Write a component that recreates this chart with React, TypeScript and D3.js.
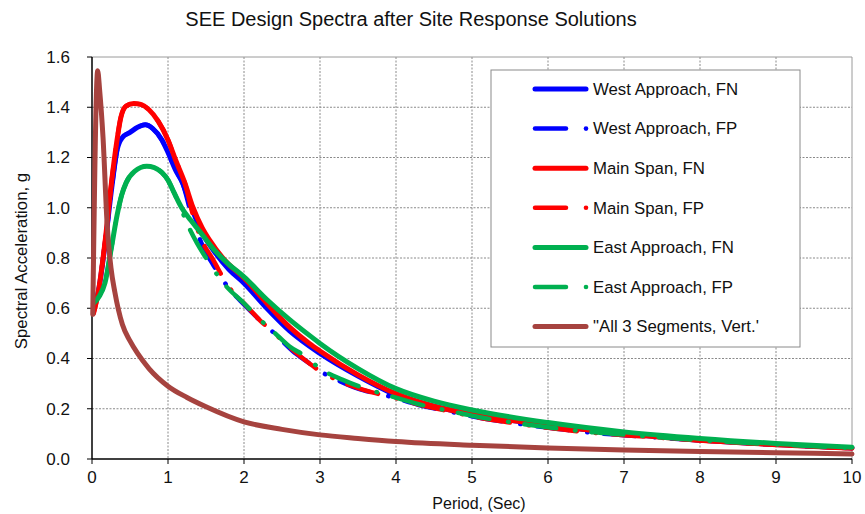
import React from 'react';
import * as d3 from 'd3';

const width = 865;
const height = 514;
const margin = { top: 57, right: 12, bottom: 55, left: 92 };

const xTicks = [0, 1, 2, 3, 4, 5, 6, 7, 8, 9, 10];
const yTicks = [0, 0.2, 0.4, 0.6, 0.8, 1.0, 1.2, 1.4, 1.6];

// period (sec) / spectral acceleration (g)
const westFnT = [0.02, 0.08, 0.17, 0.26, 0.33, 0.4, 0.5, 0.6, 0.7, 0.8, 0.92, 1.0, 1.1, 1.19, 1.31, 1.45, 1.6, 1.8, 2.0, 2.3, 2.6, 3.0, 3.5, 4, 4.5, 5, 6, 7, 8, 9, 10];
const westFnSa = [0.6, 0.66, 0.85, 1.08, 1.23, 1.28, 1.3, 1.32, 1.33, 1.315, 1.27, 1.22, 1.15, 1.1, 1.0, 0.9, 0.83, 0.755, 0.7, 0.6, 0.51, 0.42, 0.33, 0.255, 0.21, 0.178, 0.135, 0.1, 0.076, 0.058, 0.044];

const westFpT = [0.02, 0.08, 0.17, 0.26, 0.33, 0.4, 0.5, 0.6, 0.7, 0.8, 0.92, 1.0, 1.1, 1.19, 1.31, 1.46, 1.6, 1.8, 2.0, 2.2, 2.4, 2.64, 2.84, 3.0, 3.26, 3.5, 3.68, 3.9, 4.3, 4.8, 5.0, 5.5, 6, 6.6, 7, 8, 9, 10];
const westFpSa = [0.6, 0.66, 0.85, 1.08, 1.23, 1.28, 1.3, 1.32, 1.33, 1.315, 1.27, 1.22, 1.15, 1.1, 0.97, 0.845, 0.77, 0.68, 0.615, 0.555, 0.5, 0.43, 0.385, 0.35, 0.31, 0.28, 0.265, 0.25, 0.215, 0.183, 0.17, 0.145, 0.125, 0.104, 0.095, 0.074, 0.057, 0.043];

const mainFnT = [0.02, 0.08, 0.17, 0.26, 0.32, 0.38, 0.45, 0.55, 0.65, 0.75, 0.87, 1.0, 1.1, 1.22, 1.33, 1.45, 1.55, 1.75, 2.0, 2.3, 2.6, 2.86, 3.0, 3.5, 4, 4.5, 5, 6, 7, 8, 9, 10];
const mainFnSa = [0.58, 0.66, 0.86, 1.11, 1.25, 1.36, 1.405, 1.415, 1.41, 1.39, 1.345, 1.27, 1.19, 1.1, 1.0, 0.92, 0.87, 0.79, 0.72, 0.62, 0.525, 0.46, 0.43, 0.335, 0.26, 0.21, 0.178, 0.135, 0.1, 0.075, 0.057, 0.043];

const mainFpT = [0.02, 0.08, 0.17, 0.26, 0.32, 0.38, 0.45, 0.55, 0.65, 0.75, 0.87, 1.0, 1.1, 1.22, 1.33, 1.46, 1.58, 1.8, 2.0, 2.2, 2.4, 2.6, 2.84, 3.0, 3.22, 3.5, 3.7, 3.9, 4.3, 4.8, 5.0, 5.5, 6, 6.6, 7, 8, 9, 10];
const mainFpSa = [0.58, 0.66, 0.86, 1.11, 1.25, 1.36, 1.405, 1.415, 1.41, 1.39, 1.345, 1.27, 1.19, 1.1, 0.97, 0.86, 0.8, 0.685, 0.62, 0.555, 0.5, 0.445, 0.385, 0.35, 0.315, 0.282, 0.264, 0.25, 0.217, 0.183, 0.17, 0.145, 0.124, 0.104, 0.095, 0.074, 0.057, 0.043];

const eastFnT = [0.02, 0.1, 0.17, 0.26, 0.33, 0.39, 0.45, 0.56, 0.72, 0.82, 0.92, 1.0, 1.08, 1.18, 1.3, 1.42, 1.6, 1.8, 2.0, 2.3, 2.6, 2.87, 3.0, 3.5, 4, 4.5, 5, 6, 7, 8, 9, 10];
const eastFnSa = [0.62, 0.65, 0.7, 0.85, 0.97, 1.05, 1.1, 1.145, 1.165, 1.16, 1.14, 1.11, 1.06, 1.0, 0.95, 0.905, 0.835, 0.775, 0.725, 0.635, 0.555, 0.49, 0.46, 0.36, 0.28, 0.23, 0.195, 0.145, 0.108, 0.082, 0.062, 0.047];

const eastFpT = [0.02, 0.1, 0.17, 0.26, 0.33, 0.39, 0.45, 0.56, 0.72, 0.82, 0.92, 1.0, 1.08, 1.18, 1.27, 1.38, 1.5, 1.77, 2.0, 2.2, 2.4, 2.6, 2.8, 3.0, 3.3, 3.6, 3.9, 4.3, 4.8, 5.0, 5.5, 6, 6.6, 7, 8, 9, 10];
const eastFpSa = [0.62, 0.65, 0.7, 0.85, 0.97, 1.05, 1.1, 1.145, 1.165, 1.16, 1.14, 1.11, 1.06, 0.99, 0.925, 0.86, 0.8, 0.686, 0.62, 0.558, 0.503, 0.448, 0.41, 0.36, 0.315, 0.28, 0.253, 0.218, 0.185, 0.172, 0.147, 0.126, 0.106, 0.097, 0.075, 0.058, 0.044];

const vertT = [0.01, 0.075, 0.1, 0.145, 0.2, 0.25, 0.3, 0.4, 0.5, 0.6, 0.75, 1.0, 1.25, 1.5, 2, 2.5, 3, 3.5, 4, 5, 6, 7, 8, 9, 10];
const vertSa = [0.575, 1.545, 1.47, 1.28, 0.93, 0.76, 0.665, 0.535, 0.47, 0.42, 0.36, 0.29, 0.245, 0.208, 0.148, 0.118, 0.096, 0.082, 0.07, 0.055, 0.044, 0.036, 0.03, 0.025, 0.02];

const seriesNames = ['West Approach, FN', 'West Approach, FP', 'Main Span, FN', 'Main Span, FP', 'East Approach, FN', 'East Approach, FP', '"All 3 Segments, Vert.\''];
const seriesColors = ['#0000ff', '#0000ff', '#ff0000', '#ff0000', '#00b050', '#00b050', '#a6433f'];
const seriesDashed = [false, true, false, true, false, true, false];

const seriesT = [westFnT, westFpT, mainFnT, mainFpT, eastFnT, eastFpT, vertT];
const seriesSa = [westFnSa, westFpSa, mainFnSa, mainFpSa, eastFnSa, eastFpSa, vertSa];

const font = '"Liberation Sans", Arial, sans-serif';
const dashPattern = '32 19 0.5 16';

export default function App() {
    const x = d3.scaleLinear().domain([0, 10]).range([margin.left, width - margin.right - 1]);
    const y = d3.scaleLinear().domain([0, 1.6]).range([height - margin.bottom, margin.top]);

    const line = d3.line<[number, number]>()
        .x(d => x(d[0]))
        .y(d => y(d[1]))
        .curve(d3.curveMonotoneX);

    const x0 = x(0), x1 = x(10), y0 = y(0), y1 = y(1.6);

    const legendX = 491, legendY = 70, legendW = 309, legendH = 277;
    const rowY = (i: number) => 89 + i * 39.6;

    return (
        <svg width={width} height={height} style={{ position: 'absolute', left: 0, top: 0, background: '#fff' }}>
            <text x={411} y={26} textAnchor="middle" fontFamily={font} fontSize={20} fill="#111">
                SEE Design Spectra after Site Response Solutions
            </text>

            {/* grid */}
            {xTicks.slice(1, -1).map(t => (
                <line key={'gx' + t} x1={x(t)} x2={x(t)} y1={y1} y2={y0} stroke="#8a8a8a" strokeWidth={1} strokeDasharray="2 1.5" />
            ))}
            {yTicks.slice(1, -1).map(t => (
                <line key={'gy' + t} x1={x0} x2={x1} y1={y(t)} y2={y(t)} stroke="#8a8a8a" strokeWidth={1} strokeDasharray="2 1.5" />
            ))}
            <line x1={x0} x2={x1} y1={y1} y2={y1} stroke="#9a9a9a" strokeWidth={1} />
            <line x1={x1} x2={x1} y1={y1} y2={y0} stroke="#9a9a9a" strokeWidth={1} />

            {/* axes */}
            <line x1={x0} x2={x0} y1={y1} y2={y0} stroke="#000" strokeWidth={1.5} />
            <line x1={x0} x2={x1} y1={y0} y2={y0} stroke="#000" strokeWidth={1.5} />
            {yTicks.map(t => (
                <g key={'yt' + t}>
                    <line x1={x0 - 5} x2={x0} y1={y(t)} y2={y(t)} stroke="#000" />
                    <text x={70} y={y(t)} dy="0.35em" textAnchor="end" fontFamily={font} fontSize={17} fill="#111">{t.toFixed(1)}</text>
                </g>
            ))}
            {xTicks.map(t => (
                <g key={'xt' + t}>
                    <line x1={x(t)} x2={x(t)} y1={y0} y2={y0 + 5} stroke="#000" />
                    <text x={x(t)} y={483} textAnchor="middle" fontFamily={font} fontSize={17} fill="#111">{t}</text>
                </g>
            ))}
            <text x={479} y={509} textAnchor="middle" fontFamily={font} fontSize={16} fill="#111">Period, (Sec)</text>
            <text transform={`translate(27,${261}) rotate(-90)`} textAnchor="middle" fontFamily={font} fontSize={16.8} fill="#111">
                Spectral Acceleration, g
            </text>

            {/* series */}
            {seriesNames.map((name, i) => {
                const pts = seriesT[i].map((t, j) => [t, seriesSa[i][j]] as [number, number]);
                return (
                    <path key={name} d={line(pts) || ''} fill="none" stroke={seriesColors[i]} strokeWidth={seriesDashed[i] ? 4.5 : 5}
                        strokeLinecap="round" strokeLinejoin="round"
                        strokeDasharray={seriesDashed[i] ? dashPattern : undefined}
                        strokeDashoffset={seriesDashed[i] ? i * 7 : undefined} />
                );
            })}

            {/* legend */}
            <rect x={legendX} y={legendY} width={legendW} height={legendH} fill="#fff" stroke="#8a8a8a" strokeWidth={1} />
            {seriesNames.map((name, i) => (
                <g key={'lg' + name}>
                    {seriesDashed[i] ? (
                        <>
                            <line x1={535} x2={566} y1={rowY(i)} y2={rowY(i)} stroke={seriesColors[i]} strokeWidth={4.5} strokeLinecap="round" />
                            <circle cx={586} cy={rowY(i)} r={2.3} fill={seriesColors[i]} />
                        </>
                    ) : (
                        <line x1={535} x2={586} y1={rowY(i)} y2={rowY(i)} stroke={seriesColors[i]} strokeWidth={5} strokeLinecap="round" />
                    )}
                    <text x={593} y={rowY(i)} dy="0.35em" fontFamily={font} fontSize={16.8} fill="#111">{name}</text>
                </g>
            ))}
        </svg>
    );
}
